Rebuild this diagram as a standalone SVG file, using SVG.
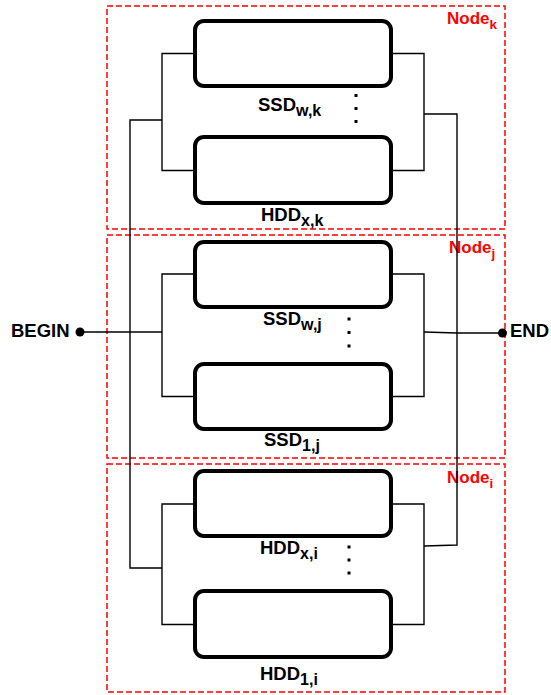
<svg xmlns="http://www.w3.org/2000/svg" width="551" height="695" viewBox="0 0 551 695">
<style>
.cont{fill:none;stroke:#ff0000;stroke-width:1.5;stroke-dasharray:6 3}
.box{fill:#fff;stroke:#000;stroke-width:4}
.wire{fill:none;stroke:#000;stroke-width:1.4}
.lbl{font-family:"Liberation Sans",Arial,sans-serif;font-weight:bold;font-size:18.5px;fill:#000}
.sub{font-size:16px}
.nl{font-family:"Liberation Sans",Arial,sans-serif;font-weight:bold;font-size:17px;fill:#ff0000}
.nsub{font-size:13.5px}
.dot{fill:#000}
</style>
<rect width="551" height="695" fill="#fff"/>
<g id="node_k">
<rect class="cont" x="107" y="6" width="398" height="223"/>
<text class="nl" x="447" y="24">Node<tspan class="nsub" dy="5">k</tspan></text>
</g>
<g id="node_j">
<rect class="cont" x="107" y="235" width="398" height="223"/>
<text class="nl" x="449" y="253">Node<tspan class="nsub" dy="5">j</tspan></text>
</g>
<g id="node_i">
<rect class="cont" x="107" y="464" width="398" height="228"/>
<text class="nl" x="447" y="483">Node<tspan class="nsub" dy="5">i</tspan></text>
</g>
<g id="connectors">
<polyline class="wire" points="193,53.5 162,53.5 162,170.5 193,170.5"/>
<polyline class="wire" points="393,53.5 424,53.5 424,170.5 393,170.5"/>
<polyline class="wire" points="162,120 130,120 130,568 162,568"/>
<polyline class="wire" points="424,114 457,114 457,545 424,546"/>
<polyline class="wire" points="193,274 162,274 162,396.5 193,396.5"/>
<polyline class="wire" points="393,274 424,274 424,396.5 393,396.5"/>
<polyline class="wire" points="193,504 162,504 162,624.5 193,624.5"/>
<polyline class="wire" points="393,504 424,504 424,624.5 393,624.5"/>
<line class="wire" x1="80" y1="332" x2="162" y2="332"/>
<polyline class="wire" points="424,332 457,333 502,333"/>
</g>
<g id="begin">
<circle class="dot" cx="80" cy="332" r="4.5"/>
<text class="lbl" x="11" y="337">BEGIN</text>
</g>
<g id="end">
<circle class="dot" cx="502.5" cy="333" r="4.5"/>
<text class="lbl" x="510" y="337">END</text>
</g>
<g id="ssd_w_k">
<rect class="box" x="195" y="21" width="196" height="65" rx="9"/>
<text class="lbl" x="258" y="111">SSD<tspan class="sub" dy="5">w,k</tspan></text>
</g>
<g id="hdd_x_k">
<rect class="box" x="195" y="137" width="196" height="66" rx="9"/>
<text class="lbl" x="261" y="221">HDD<tspan class="sub" dy="5">x,k</tspan></text>
</g>
<g id="dots_k"><rect class="dot" x="354.5" y="94" width="3" height="3"/><rect class="dot" x="354.5" y="107" width="3" height="3"/><rect class="dot" x="354.5" y="120" width="3" height="3"/></g>
<g id="ssd_w_j">
<rect class="box" x="195" y="242" width="196" height="65" rx="9"/>
<text class="lbl" x="263" y="325">SSD<tspan class="sub" dy="5">w,j</tspan></text>
</g>
<g id="ssd_1_j">
<rect class="box" x="195" y="364" width="196" height="65" rx="9"/>
<text class="lbl" x="264" y="446">SSD<tspan class="sub" dy="5">1,j</tspan></text>
</g>
<g id="dots_j"><rect class="dot" x="347.5" y="317.5" width="3" height="3"/><rect class="dot" x="347.5" y="331" width="3" height="3"/><rect class="dot" x="347.5" y="344.5" width="3" height="3"/></g>
<g id="hdd_x_i">
<rect class="box" x="195" y="471" width="196" height="65" rx="9"/>
<text class="lbl" x="260" y="554">HDD<tspan class="sub" dy="5">x,i</tspan></text>
</g>
<g id="hdd_1_i">
<rect class="box" x="195" y="591" width="196" height="66" rx="9"/>
<text class="lbl" x="260" y="680">HDD<tspan class="sub" dy="5">1,i</tspan></text>
</g>
<g id="dots_i"><rect class="dot" x="347.5" y="545.5" width="3" height="3"/><rect class="dot" x="347.5" y="558.5" width="3" height="3"/><rect class="dot" x="347.5" y="571.5" width="3" height="3"/></g>
</svg>
